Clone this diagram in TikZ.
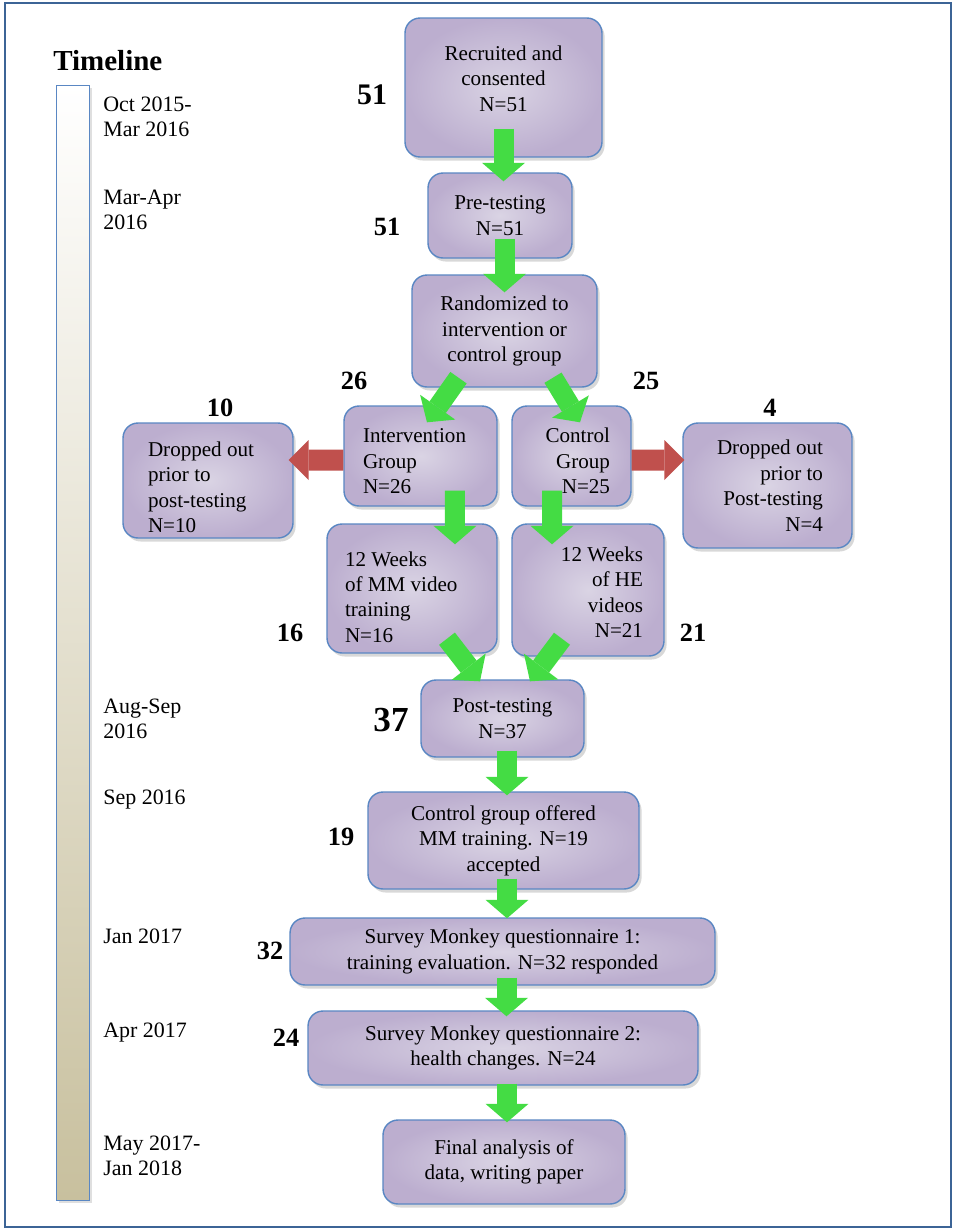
\documentclass[tikz,border=0pt]{standalone}
\usepackage{fontspec}
\setmainfont{Liberation Serif}
\usetikzlibrary{arrows.meta, shadows}

\definecolor{boxedge}{RGB}{90,135,195}
\definecolor{boxout}{RGB}{188,174,207}
\definecolor{boxin}{RGB}{218,212,228}
\definecolor{greenarr}{RGB}{68,220,68}
\definecolor{redarr}{RGB}{192,80,77}
\definecolor{frameblue}{RGB}{60,100,150}
\definecolor{barbottom}{RGB}{200,192,158}

\tikzset{
  stage/.style={draw=boxedge, line width=0.8pt, rounded corners=0.3cm,
    shading=radial, inner color=boxin, outer color=boxout,
    drop shadow={opacity=0.3, shadow xshift=1.5pt, shadow yshift=-2pt},
    font=\fontsize{12}{14.5}\selectfont, align=center, inner sep=0pt},
  count/.style={font=\fontsize{15}{18}\selectfont\bfseries, inner sep=0pt},
  date/.style={font=\fontsize{12.5}{14.2}\selectfont, align=left, anchor=west, inner sep=0pt},
  gostep/.style={greenarr, line width=0.4cm, -{Triangle[width=0.86cm, length=0.37cm, line width=0pt]}},
  dropstep/.style={redarr, line width=0.42cm, -{Triangle[width=0.8cm, length=0.4cm, line width=0pt]}}
}

\begin{document}
\begin{tikzpicture}[x=0.02cm, y=-0.02cm]
\useasboundingbox (0,0) rectangle (957,1232);
\fill[white] (0,0) rectangle (957,1232);
\draw[frameblue, line width=1pt] (5,3) rectangle (951,1227);

%timeline bar
\node[font=\fontsize{16.5}{20}\selectfont\bfseries, anchor=west, inner sep=0pt] (title) at (53,61) {Timeline};
\shade[top color=white, bottom color=barbottom, draw=boxedge, line width=0.5pt,
  drop shadow={opacity=0.25, shadow xshift=1.5pt, shadow yshift=-1.5pt}] (56,85) rectangle (89,1200);

\node[date] (d1) at (103,117) {Oct 2015-\\Mar 2016};
\node[date] (d2) at (103,210) {Mar-Apr\\2016};
\node[date] (d3) at (103,719) {Aug-Sep\\2016};
\node[date] (d4) at (103,800) {Sep 2016};
\node[date] (d5) at (103,936) {Jan 2017};
\node[date] (d6) at (103,1033) {Apr 2017};
\node[date] (d7) at (103,1156) {May 2017-\\Jan 2018};

%boxes
\node[stage, minimum width=3.94cm, minimum height=2.78cm] (rec) at (503.5,87.5) {Recruited and\\consented\\N=51\\[-4pt]\mbox{}};
\node[stage, minimum width=2.88cm, minimum height=1.7cm] (pre) at (500,215.5) {Pre-testing\\N=51};
\node[stage, minimum width=3.7cm, minimum height=2.24cm] (rand) at (504.5,331) {Randomized to\\intervention or\\control group};
\node[stage, minimum width=3.06cm, minimum height=2cm, text width=2.3cm, align=flush left] (int) at (420.5,456) {\rule{0pt}{14pt}Intervention\\Group\\N=26};
\node[stage, minimum width=2.38cm, minimum height=2cm, text width=1.54cm, align=flush right] (ctl) at (571.5,456) {\rule{0pt}{14pt}Control\\Group\\N=25};
\node[stage, minimum width=3.4cm, minimum height=2.3cm, text width=2.4cm, align=flush left] (dropL) at (208,480.5) {\rule{0pt}{16pt}Dropped out\\prior to\\post-testing\\N=10};
\node[stage, minimum width=3.38cm, minimum height=2.5cm, text width=2.22cm, align=flush right] (dropR) at (767.5,485.5) {Dropped out\\prior to\\Post-testing\\N=4};
\node[stage, minimum width=3.4cm, minimum height=2.58cm, text width=2.68cm, align=flush left] (mm) at (412,588.5) {\rule{0pt}{18pt}12 Weeks\\of MM video\\training\\N=16};
\node[stage, minimum width=3.04cm, minimum height=2.64cm, text width=2.2cm, align=flush right] (he) at (588,590) {\rule{0pt}{11pt}12 Weeks\\of HE\\videos\\N=21};
\node[stage, minimum width=3.26cm, minimum height=1.54cm] (post) at (502.5,718.5) {Post-testing\\N=37};
\node[stage, minimum width=5.42cm, minimum height=1.94cm] (offer) at (503.5,840.5) {Control group offered\\MM training. N=19\\accepted};
\node[stage, minimum width=8.5cm, minimum height=1.34cm] (sm1) at (502.5,951.5) {Survey Monkey questionnaire 1:\\training evaluation. N=32 responded};
\node[stage, minimum width=7.8cm, minimum height=1.48cm] (sm2) at (503,1048) {Survey Monkey questionnaire 2:\\health changes. N=24};
\node[stage, minimum width=4.84cm, minimum height=1.68cm] (fin) at (504,1162) {Final analysis of\\data, writing paper};

%counts
\node[count, font=\fontsize{17}{20}\selectfont\bfseries] (c51a) at (372,95) {51};
\node[count] (c51b) at (387,227) {51};
\node[count] (c26) at (354,381) {26};
\node[count] (c25) at (646,381) {25};
\node[count] (c10) at (220,408) {10};
\node[count] (c4) at (770,408) {4};
\node[count] (c16) at (290,633) {16};
\node[count] (c21) at (693,633) {21};
\node[count, font=\fontsize{20}{24}\selectfont\bfseries] (c37) at (391,720) {37};
\node[count] (c19) at (341,837) {19};
\node[count] (c32) at (270,951) {32};
\node[count] (c24) at (286,1038) {24};

%green arrows
\draw[gostep] ([yshift=0.58cm]rec.south) -- ([yshift=-0.18cm]pre.north -| rec.south);
\draw[gostep] ([yshift=0.4cm]rand.north |- pre.south) -- ([yshift=-0.36cm]rand.north);
\draw[gostep] ([xshift=-0.92cm, yshift=0.2cm]rand.south) -- ([xshift=0.13cm, yshift=-0.34cm]int.north);
\draw[gostep] ([xshift=0.97cm, yshift=0.2cm]rand.south) -- ([xshift=0.17cm, yshift=-0.34cm]ctl.north);
\draw[gostep] ([xshift=0.69cm, yshift=0.32cm]int.south) -- ([xshift=0.86cm, yshift=-0.42cm]mm.north);
\draw[gostep] ([xshift=-0.39cm, yshift=0.32cm]ctl.south) -- ([xshift=-0.72cm, yshift=-0.42cm]he.north);
\draw[gostep] ([xshift=0.7cm, yshift=0.3cm]mm.south) -- ([xshift=-0.45cm, yshift=-0.04cm]post.north);
\draw[gostep] ([xshift=-0.52cm, yshift=0.36cm]he.south) -- ([xshift=0.55cm, yshift=-0.04cm]post.north);
\draw[gostep] ([xshift=0.07cm, yshift=0.14cm]offer.north |- post.south) -- ([xshift=0.07cm, yshift=-0.08cm]offer.north);
\draw[gostep] ([xshift=0.07cm, yshift=0.22cm]offer.south) -- ([xshift=0.07cm, yshift=-0.02cm]sm1.north -| offer.south);
\draw[gostep] ([xshift=0.08cm, yshift=0.16cm]sm1.south) -- ([xshift=0.08cm, yshift=-0.12cm]sm2.north -| sm1.south);
\draw[gostep] ([xshift=0.08cm, yshift=0.04cm]sm2.south) -- ([xshift=0.08cm, yshift=-0.06cm]fin.north -| sm2.south);

%red arrows
\draw[dropstep] ([yshift=-0.08cm]int.west) -- ([xshift=-0.1cm, yshift=0.41cm]dropL.east);
\draw[dropstep] ([yshift=-0.08cm]ctl.east) -- ([xshift=0.04cm, yshift=0.51cm]dropR.west);

\end{tikzpicture}
\end{document}
